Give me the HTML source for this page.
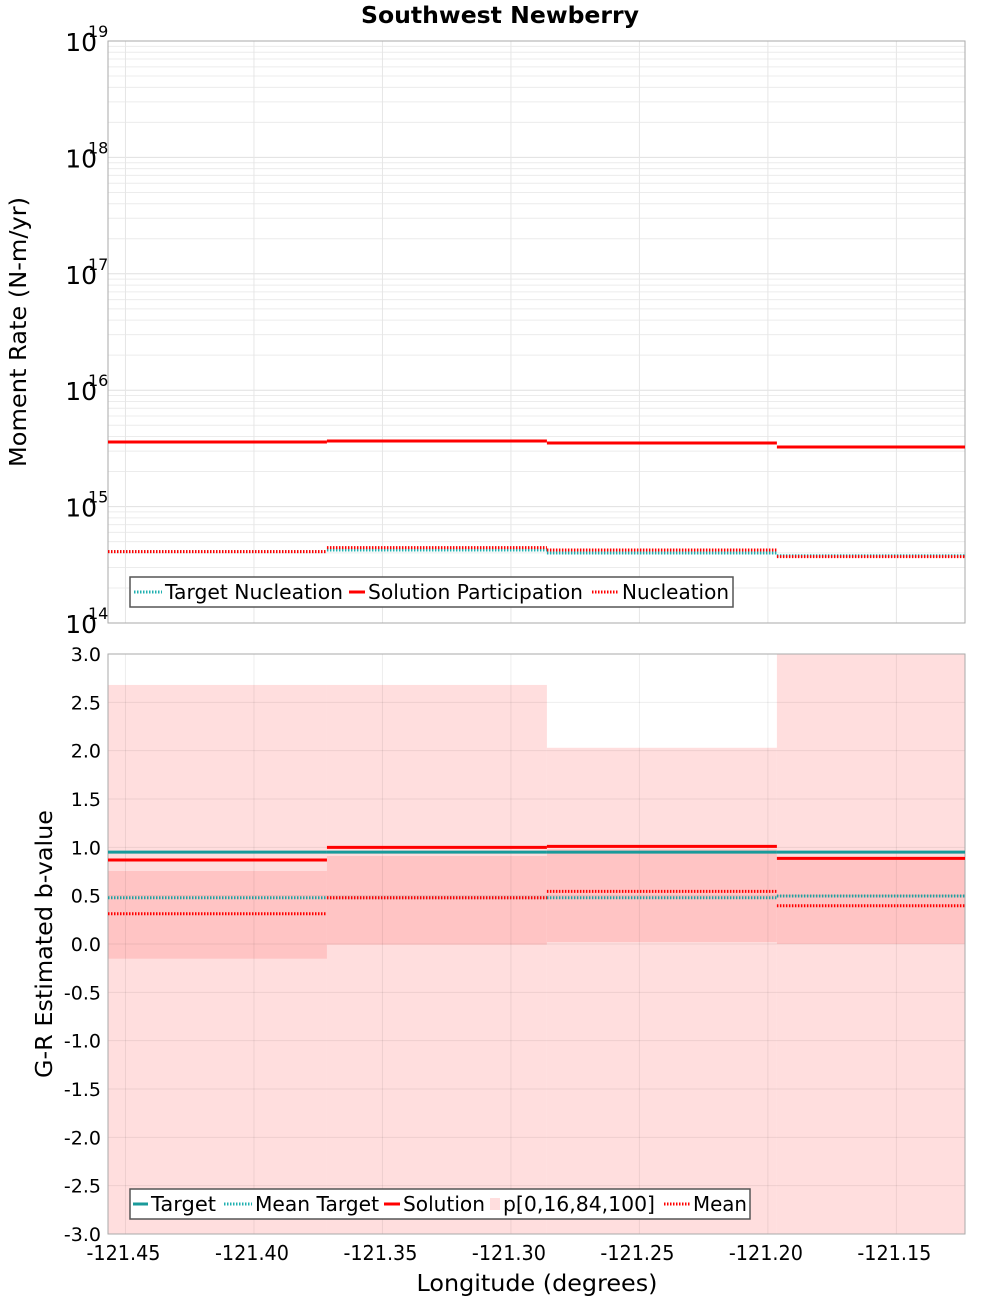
<!DOCTYPE html>
<html><head><meta charset="utf-8"><style>
body{margin:0;background:#fff}
svg{display:block;font-family:"DejaVu Sans","Liberation Sans",sans-serif}
</style></head><body>
<svg id="c" width="1000" height="1300" xmlns="http://www.w3.org/2000/svg"></svg>
<script>
const binEdges=[-121.4568,-121.3716,-121.2860,-121.1965,-121.1233];
const xTicks=[-121.45,-121.40,-121.35,-121.30,-121.25,-121.20,-121.15];
const momentParticipation=[3.59e15,3.66e15,3.52e15,3.25e15];
const momentTargetNucl=[4.10e14,4.24e14,3.99e14,3.78e14];
const momentNucl=[4.10e14,4.44e14,4.24e14,3.72e14];
const bTarget=[0.95,0.95,0.95,0.95];
const bMeanTarget=[0.479,0.479,0.479,0.497];
const bSolution=[0.869,1.0,1.01,0.886];
const bMean=[0.313,0.479,0.545,0.396];
const bP0=[-3,-3,-3,-3];
const bP16=[-0.152,-0.007,0.02,0.0];
const bP84=[0.755,0.91,0.98,0.90];
const bP100=[2.68,2.68,2.03,3.0];
const bTicks=[3.0,2.5,2.0,1.5,1.0,0.5,0.0,-0.5,-1.0,-1.5,-2.0,-2.5,-3.0];
const logTicks=[19,18,17,16,15,14];

const svg=document.getElementById('c');const NS='http://www.w3.org/2000/svg';
function el(t,a,p){const e=document.createElementNS(NS,t);for(const k in a)e.setAttribute(k,a[k]);(p||svg).appendChild(e);return e;}
const L=108,R=965,T1=41,B1=623,T2=654,B2=1234;
const xs=v=>L+(v-binEdges[0])/(binEdges[4]-binEdges[0])*(R-L);
const ylog=v=>T1+(19-Math.log10(v))/5*(B1-T1);
const yb=v=>T2+(3-v)/6*(B2-T2);
const fit={lengthAdjust:'spacingAndGlyphs'};

let t=el('text',{x:500,y:23,'text-anchor':'middle','font-size':23,'font-weight':'bold',textLength:278,lengthAdjust:'spacingAndGlyphs'});t.textContent='Southwest Newberry';


// ---- top panel
let g1=el('g',{});
for(let d=14;d<19;d++)for(let m=2;m<10;m++){el('line',{x1:L,x2:R,y1:ylog(m*Math.pow(10,d)),y2:ylog(m*Math.pow(10,d)),stroke:'#ececec','stroke-width':1},g1);}
logTicks.forEach(d=>{el('line',{x1:L,x2:R,y1:ylog(Math.pow(10,d)),y2:ylog(Math.pow(10,d)),stroke:'#e0e0e0'},g1);
 let tx=el('text',{x:97,y:ylog(Math.pow(10,d))+10,'text-anchor':'end','font-size':25},g1);tx.textContent='10';
 
 let s=el('text',{x:88,y:ylog(Math.pow(10,d))-4,'font-size':16},g1);s.textContent=String(d);});
xTicks.forEach(v=>el('line',{x1:xs(v),x2:xs(v),y1:T1,y2:B1,stroke:'#e6e6e6'},g1));
el('rect',{x:L,y:T1,width:R-L,height:B1-T1,fill:'none',stroke:'#aaa'},g1);
function steps(arr,yf,attrs,g,name){for(let i=0;i<arr.length;i++){const l=el('line',Object.assign({x1:xs(binEdges[i]),x2:xs(binEdges[i+1]),y1:yf(arr[i]),y2:yf(arr[i])},attrs),g);}}
steps(momentTargetNucl,ylog,{stroke:'#20b0b0','stroke-width':3,'stroke-dasharray':'1.5 1.5'},g1,'target-nucleation-line');
steps(momentParticipation,ylog,{stroke:'#ff0000','stroke-width':3},g1,'solution-participation-line');
steps(momentNucl,ylog,{stroke:'#ff0000','stroke-width':3,'stroke-dasharray':'1.5 1.5'},g1,'nucleation-line');
t=el('text',{transform:'translate(26,332) rotate(-90)','text-anchor':'middle','font-size':23,textLength:270,lengthAdjust:'spacingAndGlyphs'});t.textContent='Moment Rate (N-m/yr)';

let lg=el('g',{});
el('rect',{x:130,y:577,width:603,height:30,fill:'#fff',stroke:'#555','stroke-width':1.5},lg);
[[134,162,'#20b0b0',true,'Target Nucleation',165,178],[349,365,'#f00',false,'Solution Participation',368,215],[592,619,'#f00',true,'Nucleation',622,107]].forEach(e=>{
 el('line',{x1:e[0],x2:e[1],y1:592,y2:592,stroke:e[2],'stroke-width':3,'stroke-dasharray':e[3]?'1.5 1.5':'none'},lg);
 let tt=el('text',{x:e[5],y:599,'font-size':20,textLength:e[6],lengthAdjust:'spacingAndGlyphs'},lg);tt.textContent=e[4];});

// ---- bottom panel
let g2=el('g',{});
for(let i=0;i<4;i++){const x1=xs(binEdges[i]),x2=xs(binEdges[i+1]);
 let r=el('rect',{x:x1,y:yb(bP100[i]),width:x2-x1,height:yb(bP0[i])-yb(bP100[i]),fill:'#ffdede'},g2);
 r=el('rect',{x:x1,y:yb(bP84[i]),width:x2-x1,height:yb(bP16[i])-yb(bP84[i]),fill:'#ffc4c4'},g2);}
bTicks.forEach(v=>{el('line',{x1:L,x2:R,y1:yb(v),y2:yb(v),stroke:'rgba(0,0,0,0.07)'},g2);
 let tx=el('text',{x:101,y:yb(v)+7,'text-anchor':'end','font-size':19},g2);tx.textContent=v.toFixed(1);});
xTicks.forEach(v=>{el('line',{x1:xs(v),x2:xs(v),y1:T2,y2:B2,stroke:'rgba(0,0,0,0.07)'},g2);
 let tx=el('text',{x:xs(v)-2,y:1260,'text-anchor':'middle','font-size':20,textLength:74,lengthAdjust:'spacingAndGlyphs'},g2);tx.textContent=v.toFixed(2);});
el('rect',{x:L,y:T2,width:R-L,height:B2-T2,fill:'none',stroke:'#aaa'},g2);
steps(bTarget,yb,{stroke:'#1a9a9a','stroke-width':3},g2,'target-line');
steps(bSolution,yb,{stroke:'#ff0000','stroke-width':3},g2,'solution-line');
steps(bMeanTarget,yb,{stroke:'#20a0a0','stroke-width':3,'stroke-dasharray':'1.5 1.5'},g2,'mean-target-line');
steps(bMean,yb,{stroke:'#ff0000','stroke-width':3,'stroke-dasharray':'1.5 1.5'},g2,'mean-line');
t=el('text',{transform:'translate(52,944) rotate(-90)','text-anchor':'middle','font-size':23,textLength:268,lengthAdjust:'spacingAndGlyphs'});t.textContent='G-R Estimated b-value';

t=el('text',{x:537,y:1291,'text-anchor':'middle','font-size':23,textLength:241,lengthAdjust:'spacingAndGlyphs'});t.textContent='Longitude (degrees)';

let lb=el('g',{});
el('rect',{x:130,y:1189,width:620,height:30,fill:'#fff',stroke:'#555','stroke-width':1.5},lb);
[[133,148,'#1a9a9a',false,'Target',151,65],[224,252,'#20b0b0',true,'Mean Target',255,124],[384,400,'#f00',false,'Solution',403,82],[664,690,'#f00',true,'Mean',693,54]].forEach(e=>{
 el('line',{x1:e[0],x2:e[1],y1:1204,y2:1204,stroke:e[2],'stroke-width':3,'stroke-dasharray':e[3]?'1.5 1.5':'none'},lb);
 let tt=el('text',{x:e[5],y:1211,'font-size':20,textLength:e[6],lengthAdjust:'spacingAndGlyphs'},lb);tt.textContent=e[4];});
el('rect',{x:490,y:1198,width:10,height:12,fill:'#ffdede'},lb);
let tp=el('text',{x:503,y:1211,'font-size':20,textLength:152,lengthAdjust:'spacingAndGlyphs'},lb);tp.textContent='p[0,16,84,100]';
</script>
</body></html>
